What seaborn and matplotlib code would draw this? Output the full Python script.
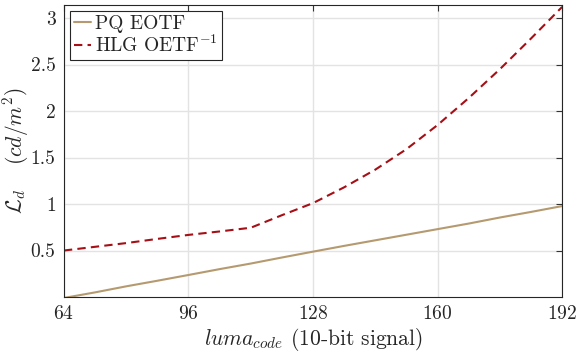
import numpy as np
import pandas as pd
import seaborn as sns
import matplotlib.pyplot as plt

# values
code = [64, 72, 80, 88, 96, 104, 112, 120, 128, 136, 144, 152, 160, 168, 176, 184, 192]
pq = [-0.01, 0.05, 0.115, 0.175, 0.237, 0.30, 0.36, 0.425, 0.488, 0.55, 0.61, 0.67, 0.73, 0.79, 0.855, 0.915, 0.978]
hlg = [0.50, 0.54, 0.58, 0.625, 0.668, 0.705, 0.745, 0.88, 1.01, 1.18, 1.37, 1.59, 1.85, 2.14, 2.45, 2.78, 3.12]
xticks = [64, 96, 128, 160, 192]
yticks = [0.5, 1, 1.5, 2, 2.5, 3]

df = pd.DataFrame({'code': code, 'PQ EOTF': pq, 'HLG OETF$^{-1}$': hlg})
df = df.melt(id_vars='code', var_name='curve', value_name='L')

sns.set_style('whitegrid')
plt.rcParams['font.family'] = ['cmr10', 'DejaVu Serif']
plt.rcParams['mathtext.fontset'] = 'cm'
plt.rcParams['axes.unicode_minus'] = False
plt.rcParams['axes.formatter.use_mathtext'] = True

fig = plt.figure(figsize=(5.76, 3.57), dpi=100)
ax = fig.add_axes([0.111, 0.168, 0.865, 0.818])

sns.lineplot(data=df, x='code', y='L', hue='curve', style='curve',
             palette=['#B59A70', '#A50F15'], dashes=[(None, None), (4, 2.5)],
             linewidth=1.5, ax=ax)

ax.set_xlim(64, 192)
ax.set_ylim(0, 3.14)
ax.set_xticks(xticks)
ax.set_yticks(yticks)
ax.set_yticklabels(['0.5', '1', '1.5', '2', '2.5', '3'])
ax.grid(True, color='#E3E3E3', linewidth=1)
ax.tick_params(direction='in', length=4, width=0.8, color='#333333',
               top=True, right=True, labelsize=14, labelcolor='#262626', pad=6)
for s in ax.spines.values():
    s.set_color('#262626')
    s.set_linewidth(0.8)

ax.set_xlabel(r'$luma_{code}$ (10-bit signal)', fontsize=15.5, color='#262626', labelpad=2)
ax.set_ylabel(r'$\mathcal{L}_d\quad\;(cd/m^2)$', fontsize=15.5, color='#262626')
ax.yaxis.set_label_coords(-0.066, 0.5)

leg = ax.legend(loc='upper left', fontsize=14, frameon=True, fancybox=False,
                edgecolor='#262626', framealpha=1, handlelength=0.9,
                handletextpad=0.2, borderpad=0.2, labelspacing=0.1,
                borderaxespad=0.3)
leg.get_frame().set_linewidth(0.8)
leg.set_title(None)

fig.savefig('out.png', dpi=100)
